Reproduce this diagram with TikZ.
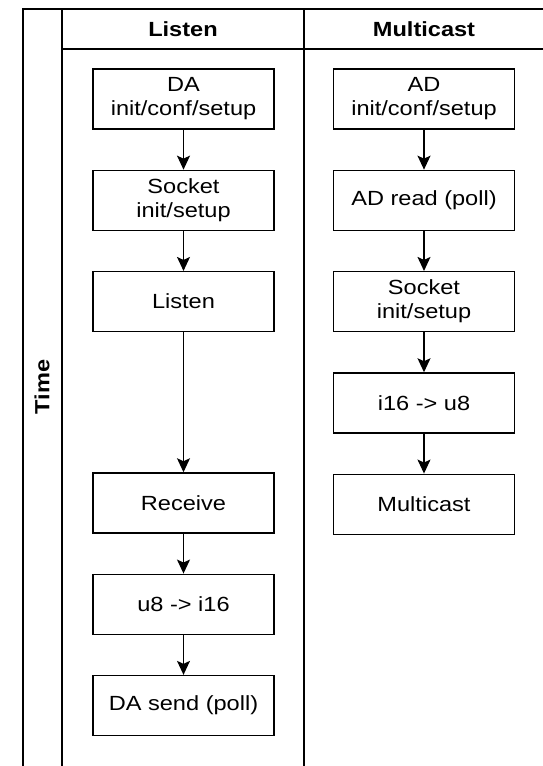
\documentclass[tikz,border=0pt]{standalone}
\usepackage{fontspec}
\setmainfont{Liberation Sans}[FakeStretch=1.15]
\usepackage{tikz}
\usetikzlibrary{positioning}
\usetikzlibrary{arrows.meta}
\tikzset{%
  steparrow/.style = {-{Stealth[length=14pt,width=13pt,inset=3pt]},line width=1.3pt},
  b/.style = {rectangle,draw,line width=1.3pt,minimum width=181pt,
        minimum height=60pt,align=center,inner sep=2pt},
  lane/.style = {line width=1.4pt},
  hd/.style = {font=\fontsize{20.5}{24}\selectfont\bfseries}
}

\begin{document}
\begin{tikzpicture}[x=1pt,y=-1pt,node distance=40pt,
                    font=\fontsize{20.5}{24}\selectfont]
                    \useasboundingbox (0,0) rectangle (543,766);
                    % frame
                    \draw[lane] (23,766) -- (23,9) -- (543,9);
                    \draw[lane] (62,766) -- (62,9);
                    \draw[lane] (304,766) -- (304,9);
                    \draw[lane] (62,49) -- (543,49);
                    \node[hd] (hlisten) at (183,29) {Listen};
                    \node[hd] (hmcast) at (424,29) {Multicast};
                    \node[hd,rotate=90] (time) at (42,387) {Time};

                    % Listen
                    \node[b] (da) at (183.5,99) {DA\\init/conf/setup};
                    \node[b] (sock1) [below=of da] {Socket\\init/setup};
                    \node[b] (listen) [below=of sock1] {Listen};
                    \node[b] (recv) [below=140pt of listen] {Receive};
                    \node[b] (conv1) [below=of recv] {u8 -> i16};
                    \node[b] (dasend) [below=of conv1] {DA send (poll)};

                    % Multicast
                    \node[b] (ad) at (424,99) {AD\\init/conf/setup};
                    \node[b] (adread) [below=of ad] {AD read (poll)};
                    \node[b] (sock2) [below=of adread] {Socket\\init/setup};
                    \node[b] (conv2) [below=of sock2] {i16 -> u8};
                    \node[b] (mcast) [below=of conv2] {Multicast};

                    \draw[steparrow] (da) -- (sock1);
                    \draw[steparrow] (sock1) -- (listen);
                    \draw[steparrow] (listen) -- (recv);
                    \draw[steparrow] (recv) -- (conv1);
                    \draw[steparrow] (conv1) -- (dasend);

                    \draw[steparrow] (ad) -- (adread);
                    \draw[steparrow] (adread) -- (sock2);
                    \draw[steparrow] (sock2) -- (conv2);
                    \draw[steparrow] (conv2) -- (mcast);
                 \end{tikzpicture}
\end{document}
